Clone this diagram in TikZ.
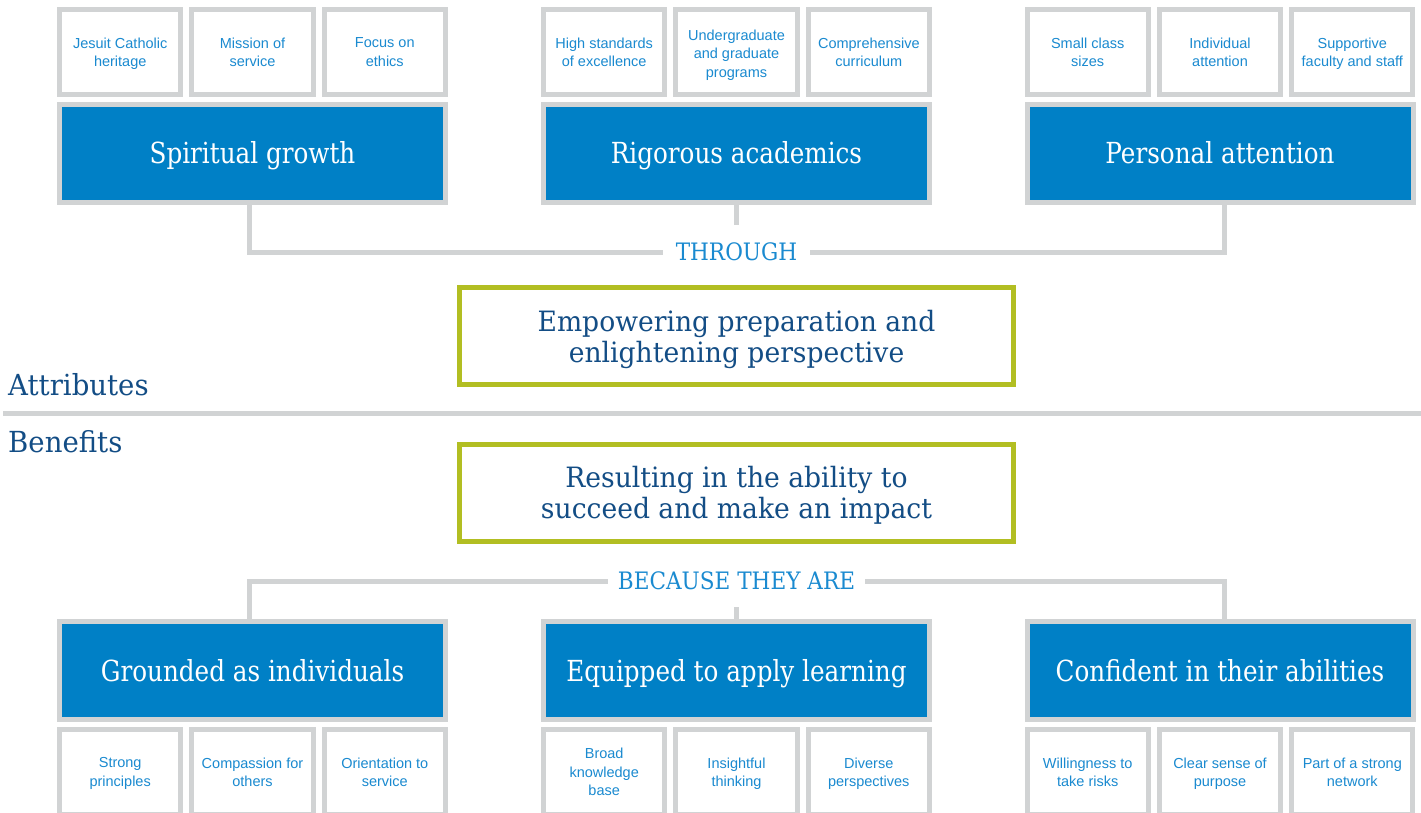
\documentclass[tikz,border=0pt]{standalone}
\usepackage{fontspec}
\setmainfont{Liberation Sans}
\newfontfamily\slab[FakeStretch=0.85]{DejaVu Serif}
\newfontfamily\slabmid[FakeStretch=0.9]{DejaVu Serif}
\newfontfamily\slabwide[FakeStretch=0.95]{DejaVu Serif}
\definecolor{boxblue}{HTML}{0080C6}
\definecolor{linegray}{HTML}{D1D3D4}
\definecolor{lightblue}{HTML}{1A8AD0}
\definecolor{navy}{HTML}{134D85}
\definecolor{olive}{HTML}{B2BE22}
\begin{document}
\begin{tikzpicture}[x=1pt,y=-1pt,
 small/.style={draw=linegray, line width=5pt, fill=white, minimum width=121.3pt, minimum height=85pt, inner sep=0pt, outer sep=0pt, align=center, text=lightblue, font=\fontsize{14.5}{18.3}\selectfont, text depth=0pt},
 head/.style={draw=linegray, line width=5pt, fill=boxblue, minimum width=386pt, minimum height=98pt, inner sep=0pt, outer sep=0pt, text=white, font=\slab\fontsize{29}{31}\selectfont, text height=21pt, text depth=0pt},
 greenbox/.style={draw=olive, line width=5pt, fill=white, minimum width=554pt, minimum height=97pt, inner sep=0pt, outer sep=0pt},
 greentext/.style={text=navy, font=\slabwide\fontsize{28}{31.5}\selectfont, align=center, inner sep=0pt},
 conn/.style={draw=linegray, line width=5pt},
 joint/.style={text=lightblue, font=\slabmid\fontsize{24}{26}\selectfont, inner ysep=0pt, outer sep=0pt},
 side/.style={text=navy, font=\slabwide\fontsize{29}{30}\selectfont, anchor=base west, inner sep=0pt}
]
\useasboundingbox (0,0) rectangle (1421,813);

% top small boxes
\node[small] (a1) at (120.2,52) {Jesuit Catholic\\heritage};
\node[small] (a2) at (252.5,52) {Mission of\\service};
\node[small] (a3) at (384.8,52) {Focus on\\ethics};
\node[small] (b1) at (604.2,52) {High standards\\of excellence};
\node[small] (b2) at (736.5,52) {};
\node[align=center, text=lightblue, font=\fontsize{14.5}{18.3}\selectfont, inner sep=0pt] (b2t) at (736.5,55) {Undergraduate\\and graduate\\programs};
\node[small] (b3) at (868.8,52) {Comprehensive\\curriculum};
\node[small] (c1) at (1087.7,52) {Small class\\sizes};
\node[small] (c2) at (1220,52) {Individual\\attention};
\node[small] (c3) at (1352.3,52) {Supportive\\faculty and staff};

% top heads
\node[head] (sg) at (252.5,153.5) {Spiritual growth};
\node[head] (ra) at (736.5,153.5) {Rigorous academics};
\node[head] (pa) at (1220,153.5) {Personal attention};

% through
\node[joint, inner xsep=13pt] (through) at (736.5,252) {THROUGH};
\coordinate (tl) at (249.5,251);
\coordinate (tr) at (1224.5,251);
\draw[conn] (sg.south -| tl) |- (through.west);
\draw[conn] (pa.south -| tr) |- (through.east);
\draw[conn] (ra.south) -- ++(0,22);

% green boxes
\node[greenbox] (emp) at (736.5,336) {};
\node[greentext] (empt) at (736.5,339.5) {Empowering preparation and\\enlightening perspective};
\node[greenbox] (res) at (736.5,492.5) {};
\node[greentext] (rest) at (736.5,495.5) {Resulting in the ability to\\succeed and make an impact};

% divider and side labels
\node[side] (attr) at (8,395.5) {Attributes};
\node[side] (ben) at (8,452) {Benefits};
\draw[conn] (3,413.5) -- (1421,413.5);

% because
\node[joint, inner xsep=10pt] (because) at (736.5,581) {BECAUSE THEY ARE};
\coordinate (bl) at (249.5,580.5);
\coordinate (br) at (1224.5,580.5);

% bottom heads
\node[head] (gi) at (252.5,670.5) {Grounded as individuals};
\node[head] (eq) at (736.5,670.5) {Equipped to apply learning};
\node[head] (ca) at (1220,670.5) {Confident in their abilities};

\draw[conn] (gi.north -| bl) |- (because.west);
\draw[conn] (ca.north -| br) |- (because.east);
\draw[conn] (eq.north) -- ++(0,-15);

% bottom small boxes
\node[small] (d1) at (120.2,772) {Strong\\principles};
\node[small] (d2) at (252.5,772) {Compassion for\\others};
\node[small] (d3) at (384.8,772) {Orientation to\\service};
\node[small] (e1) at (604.2,772) {Broad\\knowledge\\base};
\node[small] (e2) at (736.5,772) {Insightful\\thinking};
\node[small] (e3) at (868.8,772) {Diverse\\perspectives};
\node[small] (f1) at (1087.7,772) {Willingness to\\take risks};
\node[small] (f2) at (1220,772) {Clear sense of\\purpose};
\node[small] (f3) at (1352.3,772) {Part of a strong\\network};
\end{tikzpicture}
\end{document}
